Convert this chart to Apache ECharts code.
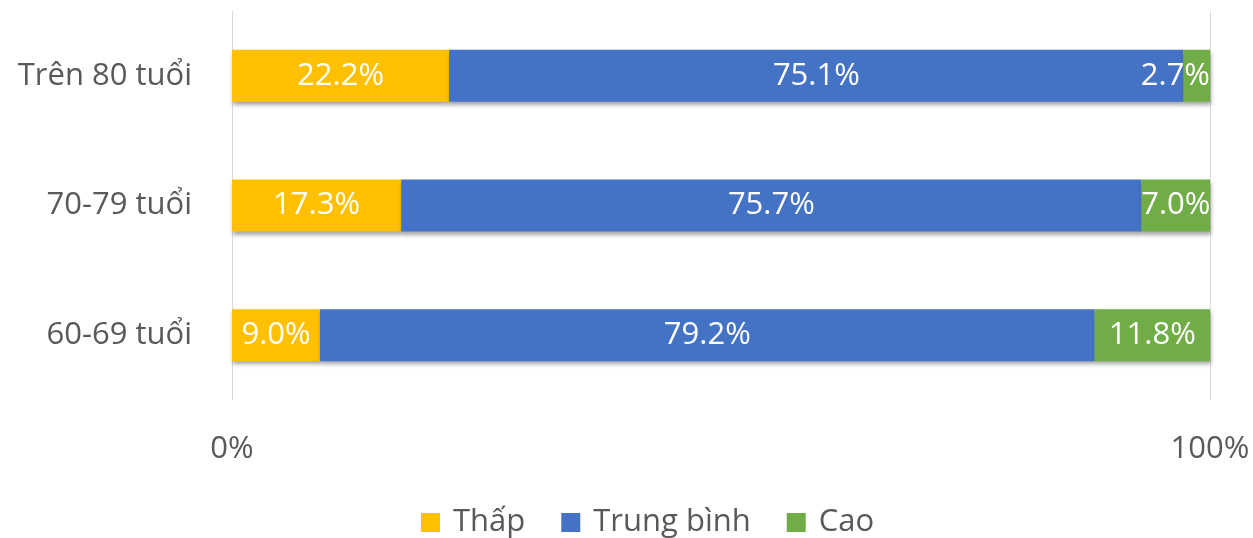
<!DOCTYPE html>
<html>
<head>
<meta charset="utf-8">
<script src="https://cdn.jsdelivr.net/npm/echarts@6/dist/echarts.min.js"></script>
<style>
  html, body { margin: 0; padding: 0; background: #fff; }
  #chart { width: 1253px; height: 538px; }
</style>
</head>
<body>
<div id="chart"></div>
<script>
// Age groups, bottom to top
const categories = ['60-69 tuổi', '70-79 tuổi', 'Trên 80 tuổi'];
const seriesNames = ['Thấp', 'Trung bình', 'Cao'];
const thap = [9.0, 17.3, 22.2];
const trungBinh = [79.2, 75.7, 75.1];
const cao = [11.8, 7.0, 2.7];
const axisTicks = [0, 100];

const colors = ['#FFC000', '#4472C4', '#70AD47'];
const font = '"Open Sans", "Noto Sans", sans-serif';
const textGray = '#595959';
const fontSize = 31;

// very thin segments: align the label to the bar end so it stays inside the plot
function items(values) {
  return values.map(v => v < 5
    ? { value: v, label: { position: 'insideRight', distance: 0 } }
    : v);
}

function makeSeries(name, values, color) {
  return {
    name: name,
    type: 'bar',
    stack: 'total',
    barWidth: 52,
    data: items(values),
    itemStyle: {
      color: color,
      shadowColor: 'rgba(0,0,0,0.35)',
      shadowBlur: 4,
      shadowOffsetX: 1,
      shadowOffsetY: 3
    },
    label: {
      show: true,
      position: 'inside',
      color: '#fff',
      fontFamily: font,
      fontSize: fontSize,
      formatter: p => p.value.toFixed(1) + '%'
    }
  };
}

const chart = echarts.init(document.getElementById('chart'), null, { renderer: 'canvas' });
chart.setOption({
  animation: false,
  backgroundColor: '#fff',
  textStyle: { fontFamily: font },
  grid: { left: 232, right: 43, top: 11, bottom: 138, containLabel: false },
  legend: {
    top: 502,
    left: 416,
    itemWidth: 19,
    itemHeight: 19,
    itemGap: 36,
    icon: 'rect',
    textStyle: { color: textGray, fontSize: fontSize, fontFamily: font, padding: [0, 0, 0, 8] },
    data: seriesNames
  },
  xAxis: {
    type: 'value',
    min: axisTicks[0],
    max: axisTicks[axisTicks.length - 1],
    interval: axisTicks[1] - axisTicks[0],
    axisLine: { show: false },
    axisTick: { show: false },
    splitLine: { show: true, lineStyle: { color: '#d9d9d9', width: 1 } },
    axisLabel: {
      color: textGray,
      fontSize: fontSize,
      fontFamily: font,
      margin: 34,
      formatter: v => v + '%'
    }
  },
  yAxis: {
    type: 'category',
    data: categories,
    axisLine: { show: false },
    axisTick: { show: false },
    axisLabel: {
      color: textGray,
      fontSize: fontSize,
      fontFamily: font,
      margin: 40
    }
  },
  series: [
    makeSeries(seriesNames[0], thap, colors[0]),
    makeSeries(seriesNames[1], trungBinh, colors[1]),
    makeSeries(seriesNames[2], cao, colors[2])
  ]
});
</script>
</body>
</html>
